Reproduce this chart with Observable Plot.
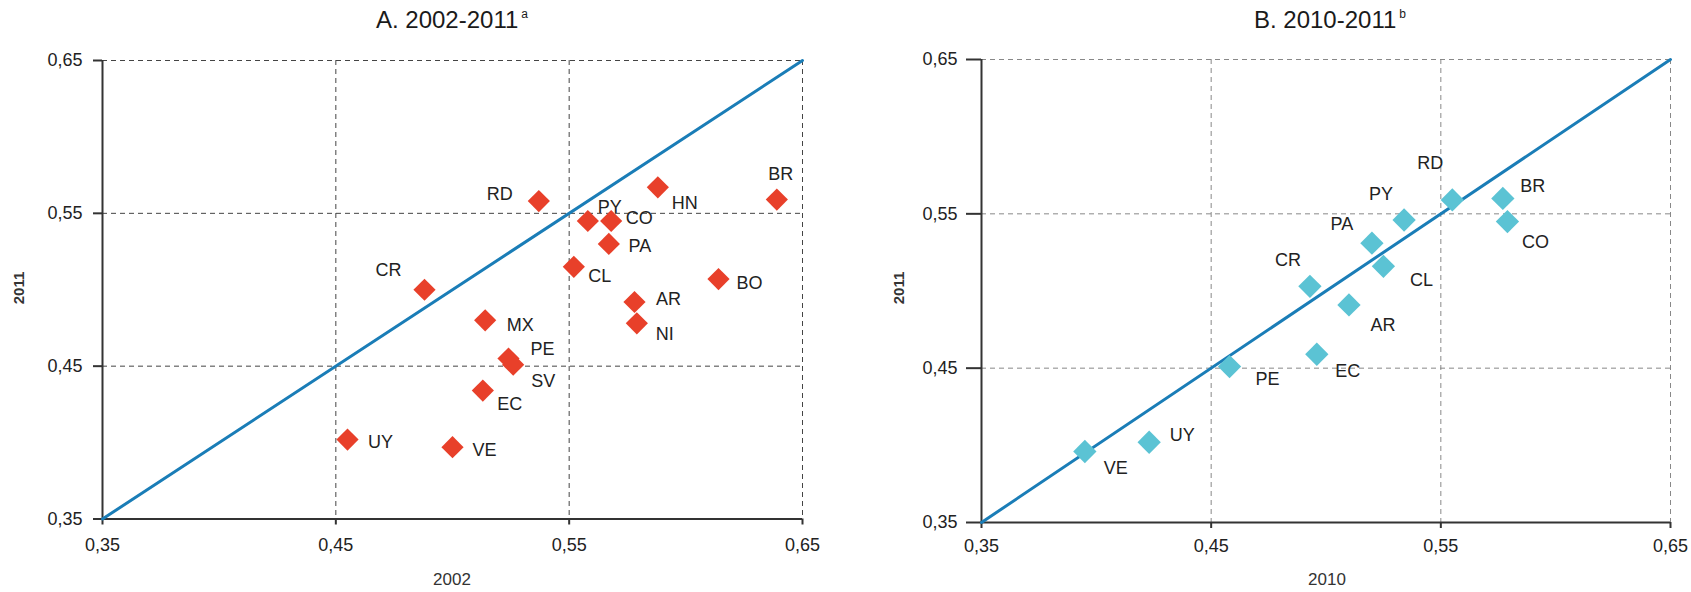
<!DOCTYPE html>
<html>
<head>
<meta charset="utf-8">
<script src="https://cdn.jsdelivr.net/npm/d3@7"></script>
<script src="https://cdn.jsdelivr.net/npm/@observablehq/plot@0.6"></script>
<style>
  html, body { margin: 0; padding: 0; background: white; }
  #root { position: relative; width: 1691px; height: 592px; font-family: "Liberation Sans", Arial, sans-serif; color: #222; }
  .panel { position: absolute; top: 0; }
  .title { position: absolute; font-size: 24px; white-space: nowrap; transform: translateX(-50%); top: 6px; color: #1a1a1a; }
  .title sup { font-size: 12px; vertical-align: 10px; margin-left: 3px; }
  .xlab { position: absolute; font-size: 17px; transform: translate(-50%, -50%); color: #333; }
  .ylab { position: absolute; font-size: 15px; font-weight: 600; transform: translate(-50%, -50%) rotate(-90deg); color: #333; }
</style>
</head>
<body>
<div id="root"></div>
<script>
// ---- data ----
const ticks = [0.35, 0.45, 0.55, 0.65];

const countriesA = ["RD","HN","BR","PY","CO","PA","CL","BO","CR","AR","NI","MX","PE","SV","EC","UY","VE"];
const x2002      = [0.537,0.588,0.639,0.558,0.568,0.567,0.552,0.614,0.488,0.578,0.579,0.514,0.524,0.526,0.513,0.455,0.500];
const y2011A     = [0.558,0.567,0.559,0.545,0.545,0.530,0.515,0.507,0.500,0.492,0.478,0.480,0.455,0.451,0.434,0.402,0.397];

const countriesB = ["RD","BR","CO","PY","PA","CL","CR","AR","EC","PE","UY","VE"];
const x2010      = [0.555,0.577,0.579,0.534,0.520,0.525,0.493,0.510,0.496,0.458,0.423,0.395];
const y2011B     = [0.559,0.560,0.545,0.546,0.531,0.516,0.503,0.491,0.459,0.451,0.402,0.396];

// ---- label placement (layout, px offsets) ----
const labelOffA = {
  RD:[-39,-7], HN:[27,16], BR:[4,-25], PY:[22,-14], CO:[28,-3], PA:[31,2], CL:[26,9], BO:[31,4],
  CR:[-36,-20], AR:[34,-3], NI:[28,11], MX:[35,5], PE:[34,-9], SV:[30,17], EC:[27,14], UY:[33,3], VE:[32,3]
};
const labelOffB = {
  RD:[-22,-37], BR:[30,-12], CO:[28,21], PY:[-23,-26], PA:[-30,-19], CL:[38,14], CR:[-22,-26],
  AR:[34,20], EC:[31,17], PE:[38,13], UY:[33,-7], VE:[31,17]
};

const fmt = v => d3.format(".2f")(v).replace(".", ",");

function makePanel(opts) {
  const data = opts.names.map((n, i) => ({name: n, x: opts.xs[i], y: opts.ys[i]}));
  const domain = [ticks[0], ticks[ticks.length - 1]];
  const diag = domain.map(v => ({x: v, y: v}));
  const gridTicks = ticks.slice(1);
  const marks = [
    Plot.gridX(gridTicks, {stroke: opts.gridColor, strokeOpacity: 1, strokeDasharray: "5,4", strokeWidth: 1}),
    Plot.gridY(gridTicks, {stroke: opts.gridColor, strokeOpacity: 1, strokeDasharray: "5,4", strokeWidth: 1}),
    Plot.axisX({ticks, tickFormat: fmt, tickSize: 6, tickPadding: opts.xPad, fontSize: 18, label: null, stroke: "#333", strokeWidth: 2}),
    Plot.axisY({ticks, tickFormat: fmt, tickSize: opts.yTick, tickPadding: opts.yPad, fontSize: 18, label: null, stroke: "#333", strokeWidth: 2}),
    Plot.ruleX([domain[0]], {stroke: "#333", strokeWidth: 2}),
    Plot.ruleY([domain[0]], {stroke: "#333", strokeWidth: 2}),
    Plot.line(diag, {x: "x", y: "y", stroke: "#1a7db7", strokeWidth: 3}),
    Plot.dot(data, {x: "x", y: "y", symbol: "diamond2", r: opts.r, fill: opts.color, stroke: "none"}),
    ...data.map(d => Plot.text([d], {
      x: "x", y: "y", text: "name",
      dx: opts.offs[d.name][0], dy: opts.offs[d.name][1],
      fontSize: 18, fill: "#222"
    }))
  ];
  return Plot.plot({
    width: opts.width, height: 592,
    marginLeft: opts.ml, marginRight: opts.mr, marginTop: opts.mt, marginBottom: opts.mb,
    x: {domain, ticks},
    y: {domain, ticks},
    style: {fontFamily: "Liberation Sans, Arial, sans-serif", fontSize: "18px", color: "#222", background: "white", overflow: "visible"},
    marks
  });
}

const root = document.getElementById("root");

const pA = makePanel({
  names: countriesA, xs: x2002, ys: y2011A, offs: labelOffA,
  color: "#e8402a", gridColor: "#444", r: 10,
  width: 845, ml: 102, mr: 43, mt: 60, mb: 73.5, xPad: 13, yTick: 9, yPad: 11
});
const pB = makePanel({
  names: countriesB, xs: x2010, ys: y2011B, offs: labelOffB,
  color: "#5bc3d4", gridColor: "#888", r: 10.5,
  width: 846, ml: 136, mr: 21, mt: 59, mb: 70, xPad: 11, yTick: 15, yPad: 9
});

const wA = document.createElement("div"); wA.className = "panel"; wA.style.left = "0px"; wA.appendChild(pA);
const wB = document.createElement("div"); wB.className = "panel"; wB.style.left = "845px"; wB.appendChild(pB);
root.appendChild(wA); root.appendChild(wB);

function addDiv(cls, html, left, top) {
  const d = document.createElement("div");
  d.className = cls; d.innerHTML = html;
  d.style.left = left + "px"; d.style.top = top + "px";
  root.appendChild(d);
}
addDiv("title", "A. 2002-2011<sup>a</sup>", 452, 6);
addDiv("title", "B. 2010-2011<sup>b</sup>", 1330, 6);
addDiv("xlab", "2002", 452, 580);
addDiv("xlab", "2010", 1327, 580);
addDiv("ylab", "2011", 18, 288);
addDiv("ylab", "2011", 898, 288);
</script>
</body>
</html>
